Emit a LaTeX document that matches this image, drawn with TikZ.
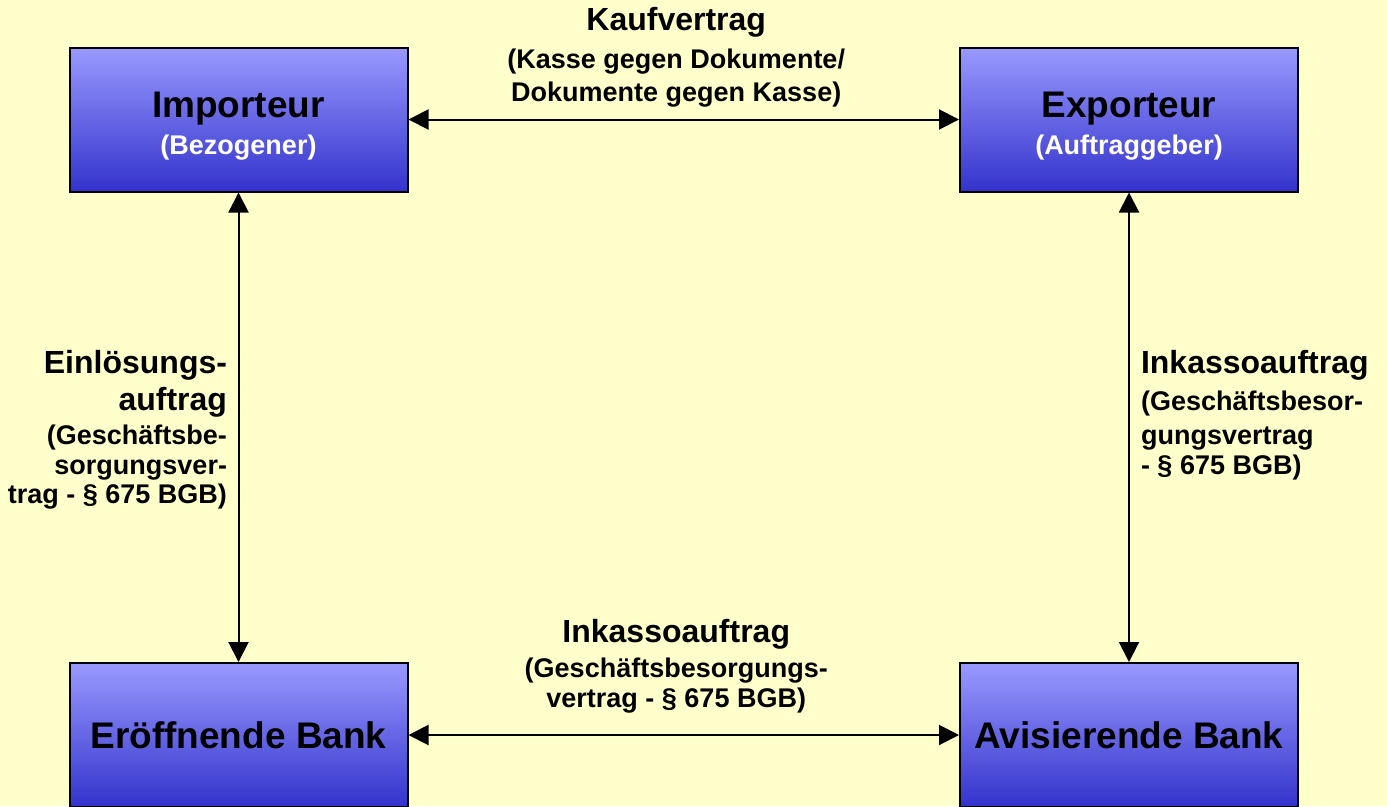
\documentclass[tikz,border=0pt]{standalone}
\usepackage{fontspec}
\setmainfont{Liberation Sans}
\usepackage{xcolor}
\usepackage{tikz}
\usetikzlibrary{arrows.meta,positioning}
\definecolor{bgYellow}{HTML}{FFFFCC}
\definecolor{boxTop}{HTML}{9999FF}
\definecolor{boxBottom}{HTML}{3333CC}
\newcommand{\tightlines}{\lineskiplimit=-100pt\relax}

\begin{document}
\begin{tikzpicture}[
    x=1pt, y=-1pt,
    box/.style={rectangle, draw=black, line width=2pt, top color=boxTop, bottom color=boxBottom, minimum width=338pt, minimum height=144pt, inner sep=0pt, align=center, font={\bfseries\fontsize{37}{37}\selectfont\tightlines}},
    arrow/.style={{Triangle[length=20pt,width=20pt]}-{Triangle[length=20pt,width=20pt]}, line width=2pt},
    lbl/.style={inner sep=0pt, align=center, font={\bfseries\fontsize{27}{#1}\selectfont\tightlines}},
    lbl/.default=29.5
]

% Background and frame
\fill[bgYellow] (0,0) rectangle (1387,806);
\useasboundingbox (0,0) rectangle (1387,806);

% Parties
\node[box] (imp) at (238.5,119.5) {\rule{0pt}{38pt}Importeur\\{\fontsize{27}{27}\selectfont\color{white}(Bezogener)}};
\node[box, right=550.5pt of imp] (exp) {\rule{0pt}{38pt}Exporteur\\{\fontsize{27}{27}\selectfont\color{white}(Auftraggeber)}};

% Banks
\node[box, below=469.5pt of imp] (eroeff) {Eröffnende Bank};
\node[box, below=469.5pt of exp] (avis) {Avisierende Bank};

% Contracts
\draw[arrow] (imp) -- node[lbl=33, above=11.3pt, xshift=-7.5pt] {{\fontsize{32}{32}\selectfont Kaufvertrag}\\[5pt](Kasse gegen Dokumente/\\Dokumente gegen Kasse)} (exp);
\draw[arrow] (eroeff) -- node[lbl=30, above=20.3pt, xshift=-7.5pt] {{\fontsize{32}{32}\selectfont Inkassoauftrag}\\[5pt](Geschäftsbesorgungs-\\vertrag - § 675 BGB)} (avis);
\draw[arrow] (imp) -- node[lbl, left=10.5pt, yshift=-2.6pt, align=right] {{\fontsize{32}{32}\selectfont Einlösungs-}\\[7.5pt]{\fontsize{32}{32}\selectfont auftrag}\\[4.5pt](Geschäftsbe-\\sorgungsver-\\trag - § 675 BGB)} (eroeff);
\draw[arrow] (exp) -- node[lbl, right=11pt, yshift=12.1pt, align=left] {{\fontsize{32}{32}\selectfont Inkassoauftrag}\\[7.5pt](Geschäftsbesor-\\[4.5pt]gungsvertrag\\ - § 675 BGB)} (avis);

\end{tikzpicture}
\end{document}
